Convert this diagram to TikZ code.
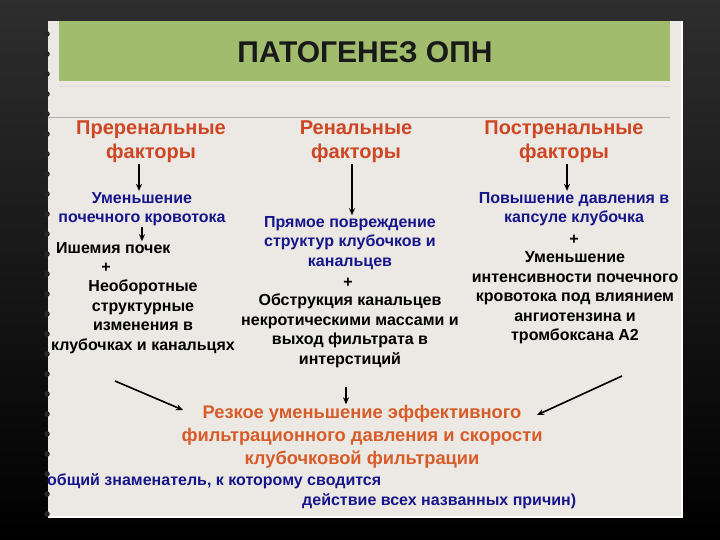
\documentclass[tikz,border=0pt]{standalone}
\usepackage{fontspec}
\setmainfont{Liberation Sans}
\usepackage{xcolor}
\usetikzlibrary{arrows.meta, positioning}
\definecolor{paper}{RGB}{236,232,227}
\definecolor{bar}{RGB}{160,188,108}
\definecolor{head}{RGB}{206,70,36}
\definecolor{res}{RGB}{216,92,40}
\definecolor{navy}{RGB}{22,22,140}

\begin{document}
\begin{tikzpicture}[x=1pt, y=-1pt,
  hd/.style={font=\fontsize{20}{24}\selectfont\bfseries, text=head, align=center, inner sep=1pt},
  bl/.style={font=\fontsize{16}{19.5}\selectfont\bfseries, text=navy, align=center, inner sep=1pt},
  bk/.style={font=\fontsize{16}{19.5}\selectfont\bfseries, text=black, align=center, inner sep=1pt},
  rs/.style={font=\fontsize{18.3}{23}\selectfont\bfseries, text=res, align=center, inner sep=1pt},
  arrow/.style={-{Stealth[length=7pt, width=6pt]}, line width=1.6pt, black}
]
\useasboundingbox (0,0) rectangle (720,540);

% Background and sheet
\fill[top color=black!82, bottom color=black] (0,0) rectangle (720,540);
\fill[paper] (48,21) rectangle (683,518);
\draw[white, line width=1.2pt] (682,21) -- (682,517) -- (48,517);
\fill[bar] (59,21) rectangle (670,81);
\draw[black!15] (59,86) -- (670,86);
\draw[black!30] (48,117) -- (670,117);

% Binding
\foreach \y in {34,54,...,514}
  \fill[black!85] (47,\y) circle (2.8pt);

% Title
\node[font=\fontsize{30}{36}\selectfont\bfseries, text=black!90] at (365,52) (title) {ПАТОГЕНЕЗ ОПН};

% Prerenal
\node[hd] at (151,142) (pre) {Преренальные\\факторы};
\node[bl] at (142,209) (pre1) {Уменьшение\\почечного кровотока};
\node[bk, anchor=west] at (55,248) (pre2) {Ишемия почек};
\node[bk] at (106,268) (pre3) {+};
\node[bk] at (143,317) (pre4) {Необоротные\\структурные\\изменения в\\клубочках и канальцях};

% Renal
\node[hd] at (356,142) (ren) {Ренальные\\факторы};
\node[bl] at (350,243) (ren1) {Прямое повреждение\\структур клубочков и\\канальцев};
\node[bk] at (348,283) (ren2) {+};
\node[bk] at (350,331) (ren3) {Обструкция канальцев\\некротическими массами и\\выход фильтрата в\\интерстиций};

% Postrenal
\node[hd] at (564,142) (post) {Постренальные\\факторы};
\node[bl] at (574,209) (post1) {Повышение давления в\\капсуле клубочка};
\node[bk] at (574,240) (post2) {+};
\node[bk] at (575,298) (post3) {Уменьшение\\интенсивности почечного\\кровотока под влиянием\\ангиотензина и\\тромбоксана А2};

% Result
\node[rs] at (362,437) (res) {Резкое уменьшение эффективного\\фильтрационного давления и скорости\\клубочковой фильтрации};
\node[bl, anchor=west] at (46,481) (note1) {общий знаменатель, к которому сводится};
\node[bl, anchor=west] at (301,501) (note2) {действие всех названных причин)};

% Arrows
\draw[arrow] (pre.south -| 139,0) -- (pre1.north -| 139,0);
\draw[arrow] (ren.south -| 352,0) -- (ren1.north -| 352,0);
\draw[arrow] (post.south -| 567,0) -- (post1.north -| 567,0);
\draw[arrow, line width=1.2pt] (pre1.south -| 142,0) -- (pre2.north -| 142,0);

\coordinate (aL) at (115,381);
\coordinate (aM) at (346,387);
\coordinate (aR) at (622,376);
\draw[arrow] (aL) -- (183,410);
\draw[arrow] (aM) -- (res.north -| aM);
\draw[arrow] (aR) -- (537,415);

\end{tikzpicture}
\end{document}
